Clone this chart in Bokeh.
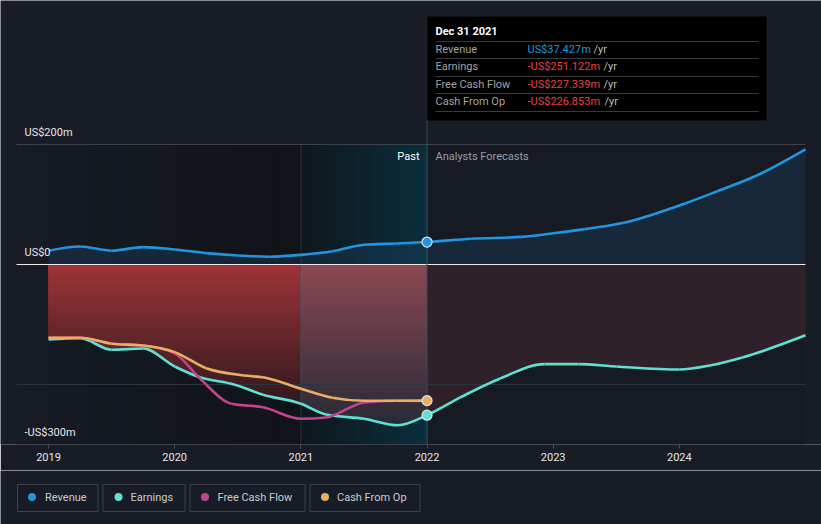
import numpy as np
from bokeh.plotting import figure
from bokeh.layouts import column
from bokeh.models import Range1d, FixedTicker
from bokeh.core.properties import value
from bokeh.embed import file_html
from bokeh.resources import INLINE

# ---------------- data ----------------
rev_x = [2019.0, 2019.25, 2019.5, 2019.75, 2020.0, 2020.25, 2020.5, 2020.75, 2021.0,
         2021.25, 2021.5, 2021.75, 2022.0, 2022.35, 2022.75, 2023.0, 2023.25, 2023.55,
         2023.8, 2024.05, 2024.3, 2024.6, 2025.0]
rev_y = [23, 30, 23, 29, 25, 19, 15, 13, 16, 22, 33, 35, 37.427, 43, 46, 52, 59, 69,
         84, 102, 122, 147, 192]

earn_x = [2019.0, 2019.25, 2019.5, 2019.75, 2020.0, 2020.2, 2020.47, 2020.7, 2021.0,
          2021.2, 2021.5, 2021.77, 2022.0, 2022.26, 2022.58, 2022.93, 2023.2, 2023.5,
          2024.0, 2024.25, 2024.5, 2025.0]
earn_y = [-125, -123, -142, -140, -170, -188, -200, -217, -232, -250, -257, -268,
          -251.122, -222, -190, -166, -166, -170, -175, -168, -155, -118]

fcf_x = [2019.0, 2019.25, 2019.5, 2019.75, 2020.0, 2020.2, 2020.45, 2020.7, 2021.0,
         2021.2, 2021.5, 2021.75, 2022.0]
fcf_y = [-122, -122, -132, -135, -148, -190, -232, -238, -257, -255, -230, -227, -227.339]

cfo_x = [2019.0, 2019.25, 2019.5, 2019.75, 2020.0, 2020.25, 2020.55, 2020.7, 2021.0,
         2021.25, 2021.5, 2021.75, 2022.0]
cfo_y = [-122, -122, -132, -135, -146, -173, -185, -188, -207, -222, -227, -227, -226.853]

year_ticks = [2019, 2020, 2021, 2022, 2023, 2024]
y_labels = {200: "US$200m", 0: "US$0", -300: "-US$300m"}

series_names = ["Revenue", "Earnings", "Free Cash Flow", "Cash From Op"]
series_colors = ["#2394df", "#5ee0d2", "#c2458c", "#e8af62"]
tip_values = ["US$37.427m", "-US$251.122m", "-US$227.339m", "-US$226.853m"]
tip_colors = ["#2394df", "#e8413f", "#e8413f", "#e8413f"]

# ---------------- layout helpers ----------------
X0, X1 = 2018.746, 2025.0      # data span of the chart panel (px 16 .. 805)
Y0, Y1 = -300.0, 440.0
FL, FW, FH = 16, 789, 444


def px_x(px):
    return X0 + (px - FL) / FW * (X1 - X0)


def px_y(py):
    return Y1 - py / FH * (Y1 - Y0)


def mix(c1, c2, t):
    a = [int(c1[i:i + 2], 16) for i in (1, 3, 5)]
    b = [int(c2[i:i + 2], 16) for i in (1, 3, 5)]
    return "#%02x%02x%02x" % tuple(int(round(a[k] + (b[k] - a[k]) * t)) for k in range(3))


def monotone_tangents(x, y):
    x = np.asarray(x, float)
    y = np.asarray(y, float)
    h = np.diff(x)
    s = np.diff(y) / h
    t = np.zeros(len(x))
    for i in range(1, len(x) - 1):
        h0, h1, s0, s1 = h[i - 1], h[i], s[i - 1], s[i]
        pp = (s0 * h1 + s1 * h0) / (h0 + h1)
        t[i] = (np.sign(s0) + np.sign(s1)) * min(abs(s0), abs(s1), 0.5 * abs(pp))
    if len(x) > 2:
        t[0] = (3 * s[0] - t[1]) / 2
        t[-1] = (3 * s[-1] - t[-2]) / 2
    else:
        t[:] = s[0]
    return x, y, h, t


def bezier_parts(xd, yd):
    x, y, h, t = monotone_tangents(xd, yd)
    return dict(x0=x[:-1], y0=y[:-1], x1=x[1:], y1=y[1:],
                cx0=x[:-1] + h / 3, cy0=y[:-1] + t[:-1] * h / 3,
                cx1=x[1:] - h / 3, cy1=y[1:] - t[1:] * h / 3)


def curve_sample(xd, yd, per=24):
    b = bezier_parts(xd, yd)
    xs, ys = [], []
    u = np.linspace(0, 1, per, endpoint=False)
    for i in range(len(b["x0"])):
        P = [(b["x0"][i], b["y0"][i]), (b["cx0"][i], b["cy0"][i]),
             (b["cx1"][i], b["cy1"][i]), (b["x1"][i], b["y1"][i])]
        w = [(1 - u) ** 3, 3 * (1 - u) ** 2 * u, 3 * (1 - u) * u ** 2, u ** 3]
        xs.extend(sum(w[k] * P[k][0] for k in range(4)))
        ys.extend(sum(w[k] * P[k][1] for k in range(4)))
    xs.append(b["x1"][-1])
    ys.append(b["y1"][-1])
    return np.array(xs), np.array(ys)


OUTER = "#171c26"
FONT = value("Roboto")

p = figure(width=821, height=470, output_backend="svg", toolbar_location=None,
           x_range=Range1d(px_x(0), px_x(821)), y_range=Range1d(Y0, Y1),
           y_axis_location=None, min_border_left=0, min_border_right=0,
           min_border_top=0, min_border_bottom=26)
p.background_fill_color = OUTER
p.border_fill_color = OUTER
p.outline_line_color = None
p.xgrid.visible = False
p.ygrid.visible = False

# base panel
p.quad(left=X0, right=X1, bottom=Y0, top=200, color="#151a23", line_color=None)

# past darkening gradient
n = 40
edges = np.linspace(X0, 2021.0, n + 1)
for i in range(n):
    p.quad(left=edges[i], right=edges[i + 1] + 0.004, bottom=Y0, top=200,
           color=mix("#161b24", "#101318", i / (n - 1)), line_color=None)
# last-year highlight gradient
edges = np.linspace(2021.0, 2022.0, n + 1)
for i in range(n):
    p.quad(left=edges[i], right=edges[i + 1] + 0.004, bottom=Y0, top=200,
           color=mix("#0f171e", "#0a2e3c", i / (n - 1)), line_color=None)

# smooth curves for areas
rsx, rsy = curve_sample(rev_x, rev_y)
esx, esy = curve_sample(earn_x, earn_y)

# revenue area
p.varea(x=rsx, y1=0, y2=rsy, fill_color="#1e4466", fill_alpha=0.35)

# earnings area (layered gradient, painted deepest first)
nb = 36
depth = 275.0


def layered(x_lo, x_hi, c_top, c_bot):
    m = (esx >= x_lo - 1e-9) & (esx <= x_hi + 1e-9)
    xs, ey = esx[m], esy[m]
    for i in range(nb, 0, -1):
        k = depth * i / nb
        p.varea(x=xs, y1=0, y2=np.maximum(ey, -k),
                fill_color=mix(c_top, c_bot, (i - 1) / (nb - 1)))


layered(2019.0, 2021.0, "#9d3338", "#1c1419")
layered(2021.0, 2022.0, "#8b4852", "#262a36")
m = esx >= 2022.0 - 1e-9
p.varea(x=esx[m], y1=0, y2=esy[m], fill_color="#2f2129")

# reference lines
p.segment(x0=X0, x1=X1, y0=[200, -200, -300], y1=[200, -200, -300],
          line_color=["#3b404a", "#2e333d", "#474c56"], line_width=1)
p.segment(x0=X0, x1=X1, y0=0, y1=0, line_color="#f2eaea", line_width=1)
p.segment(x0=2021.0, y0=Y0, x1=2021.0, y1=200, line_color="#56707c", line_width=1,
          line_alpha=0.3)
p.segment(x0=2022.0, y0=Y0, x1=2022.0, y1=px_y(120), line_color="#34505c", line_width=1)

# lines (monotone cubic curves through the read values)
lw = 2.6
for xs_, ys_, c in [(earn_x, earn_y, series_colors[1]), (fcf_x, fcf_y, series_colors[2]),
                    (cfo_x, cfo_y, series_colors[3]), (rev_x, rev_y, series_colors[0])]:
    p.bezier(line_color=c, line_width=lw, **bezier_parts(xs_, ys_))

# markers at the last actual point
for xs_, ys_, c in [(rev_x, rev_y, series_colors[0]), (earn_x, earn_y, series_colors[1]),
                    (cfo_x, cfo_y, series_colors[3])]:
    k = xs_.index(2022.0)
    p.scatter([xs_[k]], [ys_[k]], size=10, fill_color=c, line_color="#dfe6ea", line_width=1.2)

# y labels (12px above their grid lines)
for v, t in y_labels.items():
    p.text(x=[px_x(24)], y=[v + 20], text=[t],
           text_color="#e6e6e6", text_font=FONT, text_font_size="11px",
           text_baseline="middle", text_align="left")

# Past / forecast labels
p.text(x=[px_x(419)], y=[px_y(156)], text=["Past"], text_color="#ffffff", text_font=FONT,
       text_font_size="11px", text_baseline="middle", text_align="right")
p.text(x=[px_x(435)], y=[px_y(156)], text=["Analysts Forecasts"], text_color="#9a9da3",
       text_font=FONT, text_font_size="11px", text_baseline="middle", text_align="left")

# tooltip
p.quad(left=px_x(427), right=px_x(766), top=px_y(16), bottom=px_y(120), color="#000000",
       line_color=None)
p.text(x=[px_x(435)], y=[px_y(31)], text=["Dec 31 2021"], text_color="#ffffff", text_font=FONT,
       text_font_size="11px", text_font_style="bold", text_baseline="middle")
for ypx in [41, 58, 76, 93, 111]:
    p.segment(x0=px_x(435), y0=px_y(ypx), x1=px_x(758), y1=px_y(ypx), line_color="#3a3a3a",
              line_width=1)
row_y = [49, 66, 84, 101]
yr_x = [593, 603, 603, 604]
for r in range(4):
    p.text(x=[px_x(435)], y=[px_y(row_y[r])], text=[series_names[r]], text_color="#a3a3a3",
           text_font=FONT, text_font_size="11px", text_baseline="middle")
    p.text(x=[px_x(527)], y=[px_y(row_y[r])], text=[tip_values[r]], text_color=tip_colors[r],
           text_font=FONT, text_font_size="11px", text_baseline="middle")
    p.text(x=[px_x(yr_x[r])], y=[px_y(row_y[r])], text=["/yr"], text_color="#bdbdbd",
           text_font=FONT, text_font_size="11px", text_baseline="middle")

# x axis (line drawn above as a segment; ticks and labels from the axis)
ax = p.xaxis[0]
ax.ticker = FixedTicker(ticks=year_ticks)
ax.axis_line_color = None
ax.major_tick_line_color = "#474c56"
ax.major_tick_out = 4
ax.major_tick_in = 0
ax.minor_tick_line_color = None
ax.major_label_standoff = 4
ax.major_label_text_color = "#e6e6e6"
ax.major_label_text_font = "Roboto"
ax.major_label_text_font_size = "11px"

# ---------------- legend strip ----------------
lg = figure(width=821, height=54, output_backend="svg", toolbar_location=None,
            x_range=Range1d(0, 821), y_range=Range1d(54, 0),
            x_axis_location=None, y_axis_location=None,
            min_border=0)
lg.background_fill_color = OUTER
lg.border_fill_color = OUTER
lg.outline_line_color = None
lg.xgrid.visible = False
lg.ygrid.visible = False
box_l = [17, 102.5, 189.5, 309.5]
box_r = [97.5, 184.5, 304.5, 419.5]
dot_x = [31.5, 118, 204.5, 324.5]
txt_x = [44.5, 130, 217, 336.5]
lg.quad(left=box_l, right=box_r, top=14, bottom=41, fill_color=OUTER,
        line_color="#3d424c", line_width=1)
lg.scatter(dot_x, [26.5] * 4, size=8, fill_color=series_colors, line_color=None)
lg.text(x=txt_x, y=[26.5] * 4, text=series_names, text_color="#c9cbcf", text_font=FONT,
        text_font_size="11px", text_baseline="middle")

layout = column(p, lg, spacing=0)
open("out.html", "w").write(file_html(layout, INLINE))
